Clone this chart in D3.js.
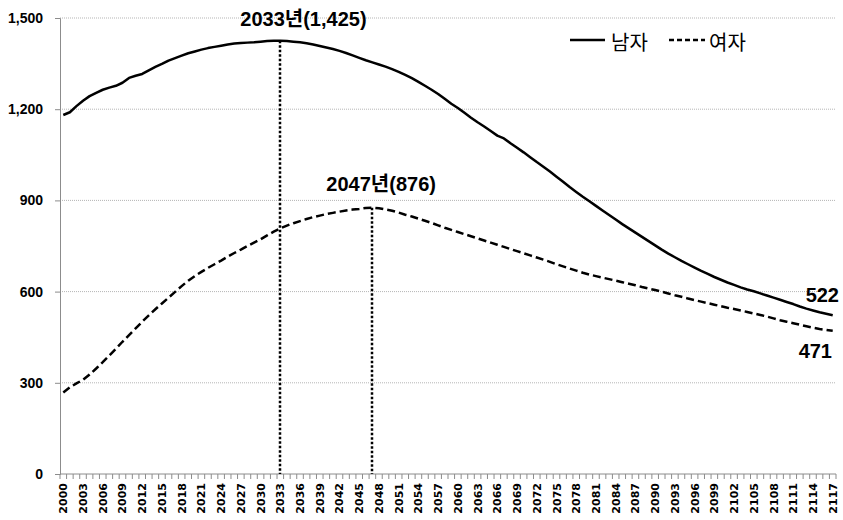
<!DOCTYPE html>
<html>
<head>
<meta charset="utf-8">
<script src="https://cdn.jsdelivr.net/npm/d3@7"></script>
<style>
  body { margin: 0; background: #fff; }
  svg { display: block; }
</style>
</head>
<body>
<svg id="chart" width="843" height="520"></svg>
<script>
// years 2000..2117
const years = d3.range(2000, 2118);

// 남자 (male), one value per year
const male = [
  1181, 1190, 1210, 1228, 1243, 1254, 1264, 1271, 1277, 1287,
  1303, 1310, 1316, 1328, 1339, 1349, 1360, 1368, 1376, 1384,
  1390, 1396, 1401, 1405, 1409, 1413, 1416, 1418, 1419, 1420,
  1422, 1424, 1425, 1425, 1424, 1422, 1420, 1417, 1413, 1408,
  1403, 1398, 1392, 1385, 1377, 1369, 1361, 1354, 1347, 1340,
  1332, 1323, 1313, 1302, 1290, 1277, 1264, 1250, 1234, 1218,
  1204, 1188, 1172, 1157, 1143, 1128, 1113, 1104, 1088, 1073,
  1058, 1042, 1026, 1011, 995, 978, 961, 944, 928, 912,
  897, 882, 867, 852, 837, 822, 808, 794, 780, 766,
  752, 738, 725, 713, 701, 690, 679, 668, 658, 648,
  639, 630, 622, 614, 607, 601, 594, 587, 580, 573,
  566, 559, 551, 544, 538, 532, 527, 522
];

// 여자 (female)
const female = [
  268, 285, 298, 310, 327, 347, 368, 390, 412, 435,
  457, 479, 501, 522, 542, 561, 580, 599, 618, 636,
  651, 665, 678, 690, 702, 715, 727, 738, 750, 761,
  772, 785, 797, 808, 817, 825, 832, 839, 845, 850,
  855, 859, 863, 867, 870, 872, 875, 876, 874, 870,
  866, 860, 853, 847, 840, 833, 826, 818, 810, 803,
  796, 789, 782, 775, 768, 761, 754, 747, 740, 733,
  726, 719, 712, 705, 698, 690, 683, 676, 669, 662,
  656, 651, 646, 641, 636, 631, 626, 621, 615, 610,
  605, 600, 594, 588, 583, 577, 572, 567, 562, 557,
  552, 547, 543, 538, 533, 528, 523, 518, 512, 506,
  501, 496, 491, 486, 481, 477, 474, 471
];

const yTicks = [0, 300, 600, 900, 1200, 1500];
const xLabelYears = years.filter(y => (y - 2000) % 3 === 0);

const seriesNames = ['남자', '여자'];
const peaks = [
  { year: 2033, value: 1425, label: '2033년(1,425)' },
  { year: 2047, value: 876, label: '2047년(876)' }
];

const svg = d3.select('#chart');
const plotL = 60, plotR = 836, plotT = 18, plotB = 474;
const numFont = '"Liberation Sans", "Noto Sans CJK KR", sans-serif';

const x = d3.scaleBand().domain(years).range([plotL, plotR]).padding(0);
const xc = yr => x(yr) + x.bandwidth() / 2;
const y = d3.scaleLinear().domain([0, 1500]).range([plotB, plotT]);

// gridlines
svg.append('g')
  .selectAll('line')
  .data(yTicks.filter(d => d > 0))
  .join('line')
  .attr('x1', plotL).attr('x2', plotR)
  .attr('y1', d => y(d)).attr('y2', d => y(d))
  .attr('stroke', '#b5b5b5')
  .attr('stroke-width', 1)
  .attr('stroke-dasharray', '1,1');

// y axis
const yAxis = svg.append('g')
  .attr('transform', `translate(${plotL},0)`)
  .call(d3.axisLeft(y).tickValues(yTicks).tickFormat(d3.format(',')).tickSize(5).tickPadding(12));
yAxis.select('.domain').attr('stroke', '#8c8c8c');
yAxis.selectAll('.tick line').attr('stroke', '#8c8c8c');
yAxis.selectAll('text')
  .attr('font-family', numFont)
  .attr('font-weight', 'bold')
  .attr('font-size', 14)
  .attr('fill', '#000');

// x axis: ticks at band edges
const xAxis = svg.append('g');
xAxis.append('line')
  .attr('x1', plotL).attr('x2', plotR)
  .attr('y1', plotB).attr('y2', plotB)
  .attr('stroke', '#8c8c8c');
xAxis.selectAll('line.tk')
  .data(years.concat([2118]))
  .join('line')
  .attr('class', 'tk')
  .attr('x1', d => d === 2118 ? plotR : x(d))
  .attr('x2', d => d === 2118 ? plotR : x(d))
  .attr('y1', plotB).attr('y2', plotB + 5)
  .attr('stroke', '#8c8c8c');
xAxis.selectAll('text')
  .data(xLabelYears)
  .join('text')
  .attr('transform', d => `translate(${xc(d) + 4},${plotB + 9}) rotate(-90)`)
  .attr('text-anchor', 'end')
  .attr('font-family', '"DejaVu Sans", sans-serif')
  .attr('font-weight', 'bold')
  .attr('font-size', 11)
  .attr('fill', '#000')
  .text(d => d);

// peak drop lines (dotted)
svg.append('g')
  .selectAll('line')
  .data(peaks)
  .join('line')
  .attr('x1', d => Math.round(xc(d.year)))
  .attr('x2', d => Math.round(xc(d.year)))
  .attr('y1', d => y(d.value)).attr('y2', plotB)
  .attr('stroke', '#000')
  .attr('stroke-width', 2.5)
  .attr('stroke-dasharray', '2.5,2');

// series lines
const line = d3.line()
  .x((d, i) => xc(years[i]))
  .y(d => y(d));

svg.append('path')
  .datum(male)
  .attr('d', line)
  .attr('fill', 'none')
  .attr('stroke', '#000')
  .attr('stroke-width', 2.5)
  .attr('stroke-linejoin', 'round');

svg.append('path')
  .datum(female)
  .attr('d', line)
  .attr('fill', 'none')
  .attr('stroke', '#000')
  .attr('stroke-width', 2.5)
  .attr('stroke-dasharray', '8,4');

// peak labels
svg.append('g')
  .selectAll('text')
  .data(peaks)
  .join('text')
  .attr('x', (d, i) => xc(d.year) + (i === 0 ? -40 : -46))
  .attr('y', (d, i) => i === 0 ? 26 : 191)
  .attr('font-family', numFont)
  .attr('font-weight', 'bold')
  .attr('font-size', 20)
  .attr('fill', '#000')
  .text(d => d.label);

// end labels
const last = years.length - 1;
svg.append('text')
  .attr('x', 839).attr('y', 302)
  .attr('text-anchor', 'end')
  .attr('font-family', numFont)
  .attr('font-weight', 'bold')
  .attr('font-size', 20)
  .text(male[last]);
svg.append('text')
  .attr('x', 832).attr('y', 358)
  .attr('text-anchor', 'end')
  .attr('font-family', numFont)
  .attr('font-weight', 'bold')
  .attr('font-size', 20)
  .text(female[last]);

// legend
const legend = svg.append('g');
const legendItems = [
  { name: seriesNames[0], x0: 570, x1: 605, tx: 611, dash: null },
  { name: seriesNames[1], x0: 669, x1: 705, tx: 709, dash: '5,3' }
];
legendItems.forEach(it => {
  legend.append('line')
    .attr('x1', it.x0).attr('x2', it.x1)
    .attr('y1', 40).attr('y2', 40)
    .attr('stroke', '#000')
    .attr('stroke-width', 2.5)
    .attr('stroke-dasharray', it.dash);
  legend.append('text')
    .attr('x', it.tx).attr('y', 50)
    .attr('font-family', '"Noto Sans CJK KR", sans-serif')
    .attr('font-size', 20)
    .attr('fill', '#000')
    .text(it.name);
});
</script>
</body>
</html>
